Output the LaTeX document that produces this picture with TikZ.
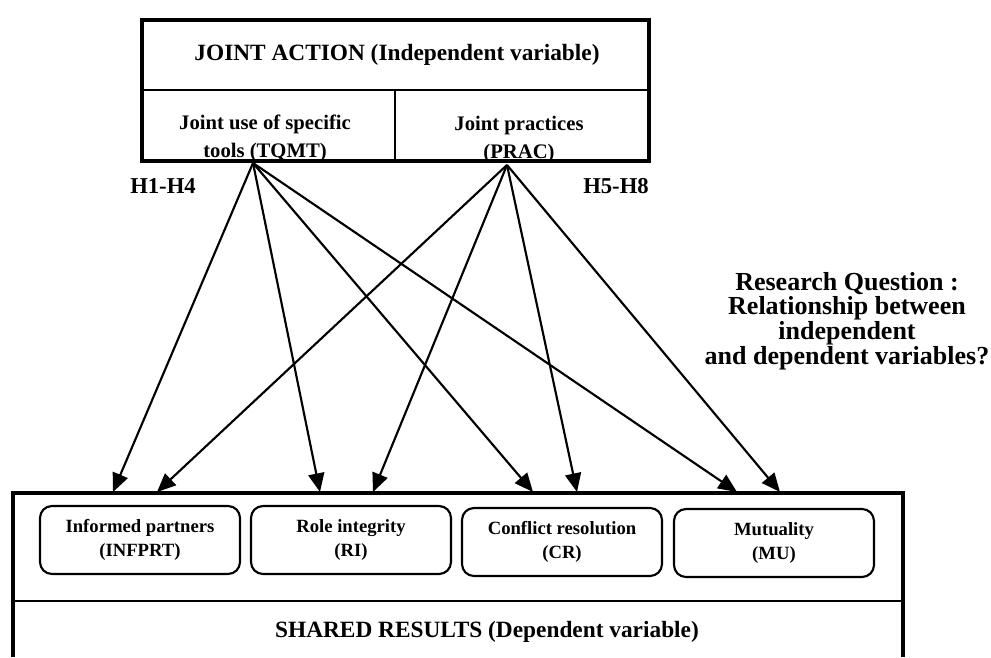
\documentclass[tikz,border=0pt]{standalone}
\usepackage{fontspec}
\setmainfont{Liberation Serif}
\usepackage{tikz}
\usetikzlibrary{arrows.meta}

\begin{document}
\begin{tikzpicture}[
                x=0.75pt, y=-0.75pt,
                frame/.style={line width=2.4pt},
                rule/.style={line width=1.5pt},
                title/.style={font=\fontsize{17.5}{19}\selectfont\bfseries},
                cell/.style={align=center, font=\fontsize{15.5}{21}\selectfont\bfseries},
                factor/.style={draw, rounded corners=9pt, line width=1.6pt, minimum width=150pt, minimum height=51pt, align=center, font=\fontsize{14}{18}\selectfont\bfseries},
                hyp/.style={font=\fontsize{17}{19}\selectfont\bfseries},
                link/.style={-{Triangle[length=14pt,width=12pt]}, line width=1.6pt}
            ]
                \useasboundingbox (0,0) rectangle (991,657);
                % independent variable
                \draw[frame] (142,20) rectangle (649,161);
                \draw[rule] (142,90) -- (649,90);
                \draw[rule] (395,90) -- (395,161);
                \node[title] (action) at (397,55) {JOINT ACTION (Independent variable)};
                \node[cell] (tqmt) at (265,138) {Joint use of specific\\tools (TQMT)};
                \node[cell] (prac) at (519,140) {Joint practices\\(PRAC)};
                \node[hyp] (h14) at (163,186) {H1-H4};
                \node[hyp] (h58) at (616,186) {H5-H8};
                % dependent variable
                \draw[frame] (13,657) -- (13,493) -- (903,493) -- (903,657);
                \draw[rule] (13,601) -- (903,601);
                \node[factor] (infprt) at (140,540) {Informed partners\\(INFPRT)};
                \node[factor] (ri) at (351,540) {Role integrity\\(RI)};
                \node[factor] (cr) at (562,542) {Conflict resolution\\(CR)};
                \node[factor] (mu) at (774,543) {Mutuality\\(MU)};
                \node[title] (shared) at (487,632) {SHARED RESULTS (Dependent variable)};
                \node[align=center, font=\fontsize{19.5}{18.5}\selectfont\bfseries] (question) at (847,321)
                    {Research Question :\\Relationship between\\independent\\and dependent variables?};
                % hypotheses
                \coordinate (tqmtout) at (253,163);
                \coordinate (pracout) at (507,165);
                \coordinate (ip1) at (113,492);
                \coordinate (ip2) at (157,492);
                \coordinate (ri1) at (320,492);
                \coordinate (ri2) at (373,492);
                \coordinate (cr1) at (533,492);
                \coordinate (cr2) at (577,492);
                \coordinate (mu1) at (737,492);
                \coordinate (mu2) at (780,492);
                \foreach \t in {ip1,ri1,cr1,mu1}
                    \draw[link] (tqmtout) -- (\t);
                \foreach \t in {ip2,ri2,cr2,mu2}
                    \draw[link] (pracout) -- (\t);
            \end{tikzpicture}
\end{document}
